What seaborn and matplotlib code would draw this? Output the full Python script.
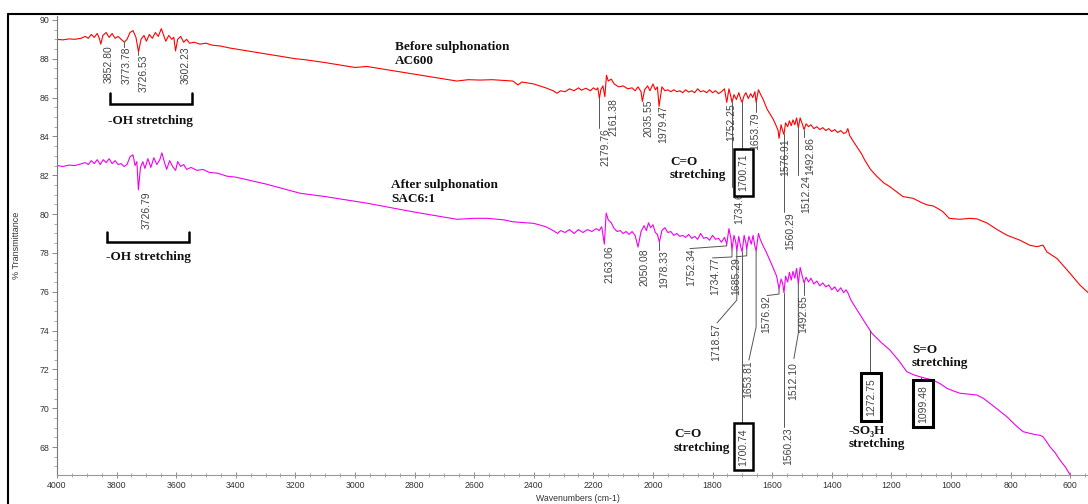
import numpy as np
import pandas as pd
import matplotlib
matplotlib.use("Agg")
import matplotlib.pyplot as plt
import seaborn as sns
from matplotlib.ticker import MultipleLocator
from matplotlib.lines import Line2D

# ---------------- data ----------------
red_spectrum = [
    (4000, 89.00), (3980, 88.97), (3960, 89.02), (3940, 89.00), (3920, 89.05), (3905, 89.15),
    (3895, 89.05), (3885, 89.25), (3875, 89.10), (3865, 89.30), (3858, 89.05), (3852.8, 88.75),
    (3846, 89.20), (3835, 89.35), (3825, 89.10), (3815, 89.30), (3805, 89.05), (3795, 89.15),
    (3785, 89.00), (3773.8, 88.85), (3765, 89.00), (3755, 89.35), (3745, 89.45), (3735, 89.10),
    (3726.5, 88.35), (3718, 89.00), (3708, 89.20), (3700, 88.90), (3690, 89.25), (3680, 89.05),
    (3670, 89.35), (3660, 89.15), (3650, 89.55), (3642, 89.20), (3635, 88.90), (3625, 89.20),
    (3615, 89.00), (3608, 89.10), (3602.2, 88.40), (3595, 89.00), (3585, 89.15), (3575, 88.85),
    (3565, 89.00), (3555, 88.80), (3540, 88.85), (3520, 88.75), (3500, 88.80), (3480, 88.70),
    (3450, 88.65), (3420, 88.55), (3400, 88.50), (3300, 88.25), (3200, 88.00), (3168, 87.95),
    (3100, 87.80), (3000, 87.55), (2960, 87.60), (2800, 87.20), (2700, 86.95), (2658, 86.85),
    (2620, 86.92), (2580, 86.90), (2540, 86.92), (2500, 86.88), (2470, 86.85), (2453, 86.65),
    (2440, 86.80), (2400, 86.70), (2360, 86.50), (2335, 86.35), (2322, 86.22), (2310, 86.35),
    (2295, 86.30), (2280, 86.45), (2265, 86.35), (2250, 86.50), (2240, 86.38), (2225, 86.48),
    (2210, 86.35), (2200, 86.50), (2190, 86.40), (2185, 86.50), (2179.8, 85.95), (2175, 86.40),
    (2168, 86.60), (2161.4, 86.05), (2156, 87.15), (2150, 86.85), (2140, 86.95), (2130, 86.70),
    (2115, 86.55), (2100, 86.60), (2085, 86.45), (2070, 86.50), (2060, 86.35), (2050, 86.55),
    (2040, 86.30), (2035.6, 85.80), (2028, 86.40), (2018, 86.60), (2010, 86.35), (2000, 86.70),
    (1992, 86.40), (1985, 86.55), (1979.5, 85.55), (1970, 86.55), (1960, 86.35), (1950, 86.40),
    (1940, 86.30), (1930, 86.40), (1920, 86.30), (1910, 86.35), (1900, 86.25), (1890, 86.40),
    (1880, 86.28), (1870, 86.35), (1860, 86.25), (1850, 86.45), (1840, 86.30), (1830, 86.35),
    (1820, 86.25), (1810, 86.40), (1800, 86.25), (1790, 86.35), (1780, 86.20), (1770, 86.30),
    (1760, 86.45), (1752.3, 85.75), (1745, 86.45), (1738, 86.00), (1734.6, 85.75), (1728, 86.15),
    (1720, 85.90), (1712, 86.25), (1706, 85.95), (1700.7, 85.75), (1694, 86.10), (1688, 86.25),
    (1680, 85.95), (1672, 86.20), (1665, 86.00), (1658, 86.30), (1653.8, 85.75), (1646, 86.40),
    (1640, 86.20), (1630, 85.90), (1617, 85.40), (1605, 85.10), (1597, 84.90), (1588, 84.60),
    (1580, 84.30), (1576.9, 83.90), (1570, 84.60), (1565, 84.30), (1560.3, 84.10), (1555, 84.70),
    (1548, 84.50), (1542, 84.80), (1536, 84.55), (1530, 84.85), (1524, 84.60), (1518, 84.95),
    (1512.2, 84.45), (1506, 84.95), (1498, 84.60), (1492.9, 84.35), (1486, 84.65), (1478, 84.50),
    (1470, 84.60), (1460, 84.40), (1450, 84.50), (1440, 84.35), (1430, 84.45), (1420, 84.30),
    (1410, 84.40), (1400, 84.25), (1390, 84.35), (1380, 84.20), (1370, 84.30), (1360, 84.15),
    (1352, 84.20), (1346, 84.40), (1340, 84.05), (1330, 83.80), (1315, 83.45), (1300, 83.10),
    (1290, 82.80), (1270, 82.30), (1248, 81.93), (1225, 81.60), (1205, 81.41), (1161, 80.90),
    (1127, 80.81), (1100, 80.60), (1080, 80.47), (1060, 80.42), (1040, 80.25), (1027, 80.12),
    (1006, 79.78), (970, 79.73), (936, 79.78), (913, 79.75), (879, 79.54), (845, 79.20),
    (812, 78.91), (768, 78.65), (735, 78.39), (711, 78.32), (691, 78.40), (678, 78.05),
    (644, 77.71), (600, 76.94), (567, 76.34), (543, 76.00), (535, 75.90),
]

magenta_spectrum = [
    (4000, 82.50), (3980, 82.45), (3960, 82.52), (3940, 82.50), (3920, 82.58), (3905, 82.65),
    (3895, 82.55), (3885, 82.75), (3875, 82.60), (3865, 82.80), (3855, 82.55), (3845, 82.80),
    (3835, 82.65), (3825, 82.85), (3815, 82.60), (3805, 82.75), (3795, 82.55), (3785, 82.60),
    (3775, 82.45), (3765, 82.55), (3755, 82.95), (3745, 83.05), (3738, 82.50), (3732, 82.70),
    (3726.8, 81.25), (3720, 82.40), (3712, 82.70), (3705, 82.35), (3695, 82.85), (3685, 82.40),
    (3675, 82.90), (3665, 82.55), (3655, 82.80), (3648, 83.15), (3640, 82.70), (3632, 82.30),
    (3622, 82.75), (3612, 82.45), (3602, 82.25), (3595, 82.70), (3585, 82.45), (3575, 82.55),
    (3565, 82.30), (3550, 82.40), (3530, 82.25), (3510, 82.30), (3490, 82.15), (3460, 82.10),
    (3430, 81.95), (3400, 81.90), (3300, 81.55), (3184, 81.07), (3100, 80.90), (2960, 80.56),
    (2800, 80.10), (2658, 79.73), (2600, 79.78), (2557, 79.78), (2500, 79.70), (2470, 79.60),
    (2400, 79.52), (2360, 79.35), (2335, 79.15), (2320, 79.00), (2310, 79.15), (2295, 79.05),
    (2280, 79.20), (2265, 79.00), (2250, 79.20), (2235, 79.05), (2220, 79.20), (2205, 79.10),
    (2190, 79.25), (2180, 79.15), (2172, 79.35), (2163.1, 78.45), (2157, 80.05), (2150, 79.70),
    (2140, 79.55), (2130, 79.25), (2120, 79.10), (2110, 79.15), (2100, 79.00), (2090, 79.10),
    (2080, 78.95), (2070, 79.10), (2060, 78.90), (2050.1, 78.30), (2040, 79.10), (2030, 79.40),
    (2022, 79.15), (2015, 79.55), (2008, 79.30), (2000, 79.45), (1992, 79.05), (1985, 78.95),
    (1978.3, 78.55), (1970, 79.15), (1960, 79.30), (1950, 79.05), (1940, 79.10), (1930, 78.90),
    (1920, 79.00), (1910, 78.85), (1900, 78.90), (1890, 78.80), (1880, 78.95), (1870, 78.75),
    (1860, 78.85), (1850, 78.70), (1840, 79.00), (1830, 78.75), (1820, 78.80), (1810, 78.65),
    (1800, 78.90), (1790, 78.70), (1780, 78.75), (1770, 78.55), (1760, 78.80), (1752.3, 78.45),
    (1745, 79.25), (1738, 78.70), (1734.8, 78.15), (1728, 78.90), (1722, 78.55), (1718.6, 78.10),
    (1712, 78.85), (1706, 78.35), (1700.7, 78.05), (1694, 78.90), (1688, 78.50), (1685.3, 78.20),
    (1678, 78.85), (1670, 78.45), (1664, 78.90), (1658, 78.35), (1653.8, 78.10), (1646, 79.00),
    (1640, 78.70), (1630, 78.35), (1620, 78.05), (1610, 77.70), (1600, 77.35), (1592, 77.05),
    (1585, 76.80), (1576.9, 76.15), (1570, 76.65), (1565, 76.45), (1560.2, 75.95), (1555, 76.80),
    (1548, 76.50), (1542, 77.00), (1536, 76.60), (1530, 77.05), (1524, 76.70), (1518, 77.20),
    (1512.1, 76.40), (1506, 77.25), (1498, 76.75), (1492.7, 76.45), (1486, 76.75), (1478, 76.50),
    (1470, 76.70), (1460, 76.40), (1450, 76.55), (1440, 76.30), (1430, 76.45), (1420, 76.25),
    (1410, 76.35), (1400, 76.10), (1390, 76.25), (1380, 76.00), (1370, 76.20), (1360, 75.95),
    (1352, 76.10), (1346, 75.95), (1335, 75.55), (1315, 75.06), (1290, 74.45), (1265, 73.86),
    (1235, 73.40), (1205, 73.00), (1175, 72.45), (1148, 71.88), (1125, 71.72), (1104, 71.62),
    (1080, 71.52), (1060, 71.45), (1035, 71.25), (1013, 71.02), (990, 70.88), (970, 70.77),
    (940, 70.72), (913, 70.68), (890, 70.50), (869, 70.25), (840, 69.90), (812, 69.56),
    (785, 69.15), (758, 68.79), (720, 68.65), (700, 68.60), (691, 68.53), (680, 68.30),
    (668, 68.02), (650, 67.70), (634, 67.33), (615, 66.95), (600, 66.56), (590, 66.30),
]

red_peaks = [3852.80, 3773.78, 3726.53, 3602.23, 2179.76, 2161.38, 2035.55, 1979.47,
             1752.25, 1734.61, 1700.71, 1653.79, 1576.91, 1560.29, 1512.24, 1492.86]
magenta_peaks = [3726.79, 2163.06, 2050.08, 1978.33, 1752.34, 1734.77, 1718.57, 1685.29,
                 1700.74, 1653.81, 1576.92, 1560.23, 1512.10, 1492.65, 1272.75, 1099.48]
boxed_peaks = [1700.71, 1700.74, 1272.75, 1099.48]

x_ticks = list(range(4000, 599, -200))
y_ticks = list(range(68, 91, 2))

# ---------------- label layout: text centre x, text top y, leader bends ----------------
red_layout = {
    3852.80: (3825, 88.71, []), 3773.78: (3767, 88.61, []), 3726.53: (3710, 88.20, []),
    3602.23: (3567, 88.61, []), 2179.76: (2158, 84.44, []), 2161.38: (2134, 85.98, []),
    2035.55: (2015, 85.88, []), 1979.47: (1965, 85.62, []), 1752.25: (1736, 85.72, []),
    1734.61: (1711, 81.40, []), 1700.71: (1696, 83.10, []), 1653.79: (1658, 85.26, []),
    1576.91: (1557, 83.92, []), 1560.29: (1540, 80.11, []), 1512.24: (1486, 82.01, []),
    1492.86: (1473, 83.97, []),
}
magenta_layout = {
    3726.79: (3700, 81.19, []), 2163.06: (2146, 78.41, []), 2050.08: (2027, 78.25, []),
    1978.33: (1961, 78.15, []),
    1752.34: (1872, 78.25, [(1752.34, 78.36), (1876, 78.22)]),
    1734.77: (1792, 77.74, [(1734.77, 77.79), (1800, 77.74)]),
    1718.57: (1787, 74.39, [(1718.57, 75.57), (1785, 74.39)]),
    1685.29: (1721, 77.79, [(1685.29, 77.85), (1721, 77.80)]),
    1700.74: (1696, 68.98, []),
    1653.81: (1679, 72.48, [(1653.81, 74.18), (1678, 72.48)]),
    1576.92: (1621, 75.83, [(1576.92, 75.88), (1617, 75.80)]),
    1560.23: (1545, 69.03, []),
    1512.10: (1528, 72.38, [(1512.10, 73.87), (1527, 72.55)]),
    1492.65: (1495, 75.83, []),
    1272.75: (1268, 71.55, []),
    1099.48: (1094, 71.20, []),
}

# ---------------- figure ----------------
sns.set_theme(style="white")
plt.rcParams["font.family"] = ["Liberation Sans", "DejaVu Sans"]

fig = plt.figure(figsize=(10.88, 5.04), dpi=100)
ax = fig.add_axes([57 / 1088, 29 / 504, 1031 / 1088, 459 / 504])

red_df = pd.DataFrame(red_spectrum, columns=["wn", "T"])
mag_df = pd.DataFrame(magenta_spectrum, columns=["wn", "T"])
sns.lineplot(data=red_df, x="wn", y="T", color="#ff0000", lw=0.8, estimator=None, sort=False, ax=ax)
sns.lineplot(data=mag_df, x="wn", y="T", color="#f000f0", lw=0.8, estimator=None, sort=False, ax=ax)

ax.set_xlim(4000, 540)
ax.set_ylim(66.56, 90.2)
ax.set_xticks(x_ticks)
ax.set_yticks(y_ticks)
ax.xaxis.set_minor_locator(MultipleLocator(50))
ax.yaxis.set_minor_locator(MultipleLocator(0.5))
ax.tick_params(axis="x", which="major", direction="inout", length=4, width=0.6,
               color="#777777", labelcolor="#333333", labelsize=6.3, pad=2)
ax.tick_params(axis="x", which="minor", direction="inout", length=2.5, width=0.5, color="#888888")
ax.tick_params(axis="y", which="major", direction="out", length=3.5, width=0.6,
               color="#777777", labelcolor="#333333", labelsize=6.3, pad=2)
ax.tick_params(axis="y", which="minor", direction="out", length=2, width=0.5, color="#888888")
ax.tick_params(bottom=True, left=True, which="both")
for side in ("top", "right"):
    ax.spines[side].set_visible(False)
ax.spines["left"].set_color("#777777")
ax.spines["left"].set_linewidth(0.8)
ax.spines["bottom"].set_color("#999999")
ax.spines["bottom"].set_linewidth(0.8)
ax.grid(False)

ax.set_xlabel("Wavenumbers (cm-1)", fontsize=6.3, color="#333333")
ax.set_ylabel("% Transmittance", fontsize=6.5, color="#333333")
ax.xaxis.set_label_coords(0.505, -0.042)
ax.yaxis.set_label_coords(-0.035, 0.5)


def draw_labels(peaks, layout, df):
    wn_sorted = df["wn"].values[::-1]
    t_sorted = df["T"].values[::-1]
    for p in peaks:
        tx, ty, bends = layout[p]
        curve_t = float(np.interp(p, wn_sorted, t_sorted))
        boxed = p in boxed_peaks
        end_y = ty + (0.25 if boxed else 0.0)
        if bends:
            xs = [p] + [b[0] for b in bends]
            ys = [curve_t] + [b[1] for b in bends]
            ax.plot(xs, ys, color="#555555", lw=0.7)
        elif curve_t - end_y > 0.08:
            ax.plot([p, p], [curve_t, end_y], color="#555555", lw=0.7)
        kw = dict(rotation=90, ha="center", va="top", fontsize=7.5, color="#444444")
        if boxed:
            kw["bbox"] = dict(boxstyle="square,pad=0.45", fc="white", ec="black",
                              lw=2.2 if p in (1272.75, 1099.48) else 1.8)
        ax.text(tx, ty, f"{p:.2f}", **kw)


draw_labels(red_peaks, red_layout, red_df)
draw_labels(magenta_peaks, magenta_layout, mag_df)

# brackets for -OH stretching
for x0, x1, yb, yt in [(3822, 3547, 85.67, 86.24), (3832, 3557, 78.56, 79.08)]:
    ax.plot([x0, x0, x1, x1], [yt, yb, yb, yt], color="black", lw=1.8, solid_joinstyle="miter")

serif = ["Liberation Serif", "DejaVu Serif"]
bold = dict(family=serif, fontweight="bold", fontsize=9.5, color="#111111", ha="left", va="center",
            linespacing=1.15)
ax.text(3829, 84.80, "-OH stretching", **bold)
ax.text(3836, 77.79, "-OH stretching", **bold)
ax.text(2866, 88.25, "Before sulphonation\nAC600", **bold)
ax.text(2879, 81.14, "After sulphonation\nSAC6:1", **bold)
ax.text(1943, 82.35, "C=O\nstretching", **bold)
ax.text(1929, 68.31, "C=O\nstretching", **bold)
ax.text(1131, 72.66, "S=O\nstretching", **bold)
ax.text(1345, 68.49, "-SO\u2083H\nstretching", **bold)

# outer frame (left and top edges)
fig.add_artist(Line2D([8 / 1088, 1.0], [1 - 14 / 504, 1 - 14 / 504], color="black", lw=1.5,
                      transform=fig.transFigure))
fig.add_artist(Line2D([8 / 1088, 8 / 1088], [0.0, 1 - 14 / 504], color="black", lw=1.5,
                      transform=fig.transFigure))

fig.savefig("out.png", dpi=100)
